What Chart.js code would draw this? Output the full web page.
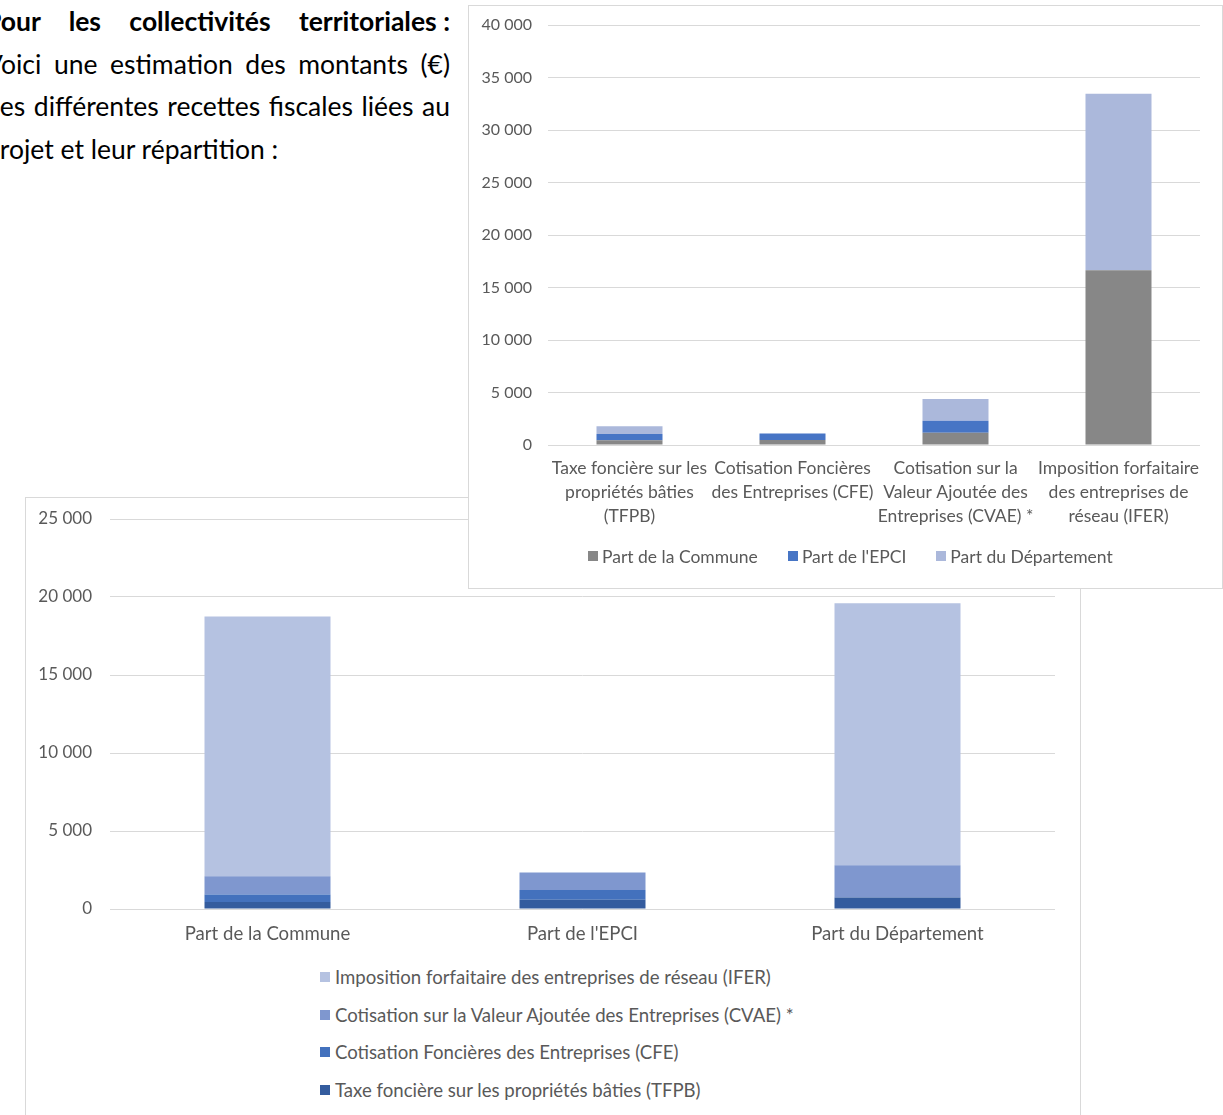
<!DOCTYPE html>
<html lang="fr">
<head>
<meta charset="utf-8">
<script src="https://cdn.jsdelivr.net/npm/chart.js@4.4.1/dist/chart.umd.min.js"></script>
<style>
  html, body { margin: 0; padding: 0; background: #fff; overflow: hidden; }
  body { width: 1223px; height: 1115px; position: relative; }
  .intro { position: absolute; left: -15px; top: 0; width: 465px; font-family: Lato, "Open Sans", sans-serif; font-size: 26.5px; color: #000; }
  .intro div { height: 42.7px; line-height: 42.7px; text-align: justify; text-align-last: justify; white-space: nowrap; }
  .intro div.last { text-align-last: left; }
  .intro b { font-weight: 700; }
  .intro .keep { display: inline-block; white-space: pre; }
  .box { position: absolute; background: #fff; border: 1px solid #d9d9d9; }
  #boxTop { left: 468px; top: 5px; width: 753px; height: 582px; z-index: 2; }
  #boxBottom { left: 25px; top: 497px; width: 1054px; height: 640px; z-index: 1; }
  canvas { display: block; }
  .legend { position: absolute; font-family: Lato, sans-serif; color: #595959; }
  .legend .item { display: flex; align-items: center; white-space: nowrap; }
  .legend .sw { width: 10px; height: 10px; margin-right: 4px; flex: none; }
  #legendTaxes { left: 119px; top: 533px; height: 34px; display: flex; gap: 30px; font-size: 17.5px; }
  #legendParts { left: 294px; top: 460px; font-size: 18.6px; }
  #legendParts .item { height: 37.7px; }
  #legendParts .sw { margin-right: 5px; }
</style>
</head>
<body>
<div class="intro">
  <div><b>Pour les collectivités territoriales<span class="keep"> :</span></b></div>
  <div>Voici une estimation des montants (€)</div>
  <div>des différentes recettes fiscales liées au</div>
  <div class="last">projet et leur répartition :</div>
</div>

<div class="box" id="boxTop">
  <canvas id="chartTaxes" width="753" height="582"></canvas>
  <div class="legend" id="legendTaxes"></div>
</div>
<div class="box" id="boxBottom">
  <canvas id="chartParts" width="1054" height="460"></canvas>
  <div class="legend" id="legendParts"></div>
</div>

<script>
// Recettes fiscales (€) et leur répartition entre collectivités
const taxLabels = [
  ["Taxe foncière sur les", "propriétés bâties", "(TFPB)"],
  ["Cotisation Foncières", "des Entreprises (CFE)"],
  ["Cotisation sur la", "Valeur Ajoutée des", "Entreprises (CVAE) *"],
  ["Imposition forfaitaire", "des entreprises de", "réseau (IFER)"]
];
const taxNames = [
  "Taxe foncière sur les propriétés bâties (TFPB)",
  "Cotisation Foncières des Entreprises (CFE)",
  "Cotisation sur la Valeur Ajoutée des Entreprises (CVAE) *",
  "Imposition forfaitaire des entreprises de réseau (IFER)"
];
const partNames = ["Part de la Commune", "Part de l'EPCI", "Part du Département"];

// Montants par taxe : TFPB, CFE, CVAE, IFER
const partCommune     = [450, 480, 1170, 16650];
const partEPCI        = [600, 610, 1130, 0];
const partDepartement = [730, 0, 2070, 16800];

const yTicksTaxes = [0, 5000, 10000, 15000, 20000, 25000, 30000, 35000, 40000];
const yTicksParts = [0, 5000, 10000, 15000, 20000, 25000];

const partColors = ["#878787", "#4775c5", "#abb8db"];
const taxColors  = ["#345c9e", "#4371bd", "#7f97cf", "#b5c2e1"];

const fmt = v => String(v).replace(/\B(?=(\d{3})+(?!\d))/g, " ");
const FAMILY = "Lato, 'Open Sans', sans-serif";
const GRID = "#d9d9d9";
const TEXT = "#595959";

function fixedTicks(list) {
  return scale => { scale.ticks = list.map(v => ({ value: v })); };
}
// Fixed axis width, no extra room reserved for the end labels
function fixedWidth(w) {
  return scale => { scale.width = w; scale.paddingTop = 0; scale.paddingBottom = 0; };
}

// Graphique 1 : par taxe, empilé par collectivité
const partsByTax = [partCommune, partEPCI, partDepartement];
new Chart(document.getElementById("chartTaxes"), {
  type: "bar",
  data: {
    labels: taxLabels,
    datasets: partNames.map((name, i) => ({
      label: name,
      data: partsByTax[i],
      backgroundColor: partColors[i],
      borderWidth: 0,
      barPercentage: 0.405,
      categoryPercentage: 1
    }))
  },
  options: {
    responsive: false,
    animation: false,
    layout: { padding: { top: 19, right: 22, left: 0, bottom: 43 } },
    scales: {
      x: {
        stacked: true,
        grid: { display: false, drawTicks: false },
        border: { display: false },
        ticks: { color: TEXT, font: { family: FAMILY, size: 17.5, lineHeight: 1.371 }, padding: 11, maxRotation: 0, autoSkip: false },
        afterFit: s => { s.height = 100; s.paddingLeft = 0; s.paddingRight = 0; }
      },
      y: {
        stacked: true,
        min: 0, max: 40000,
        afterBuildTicks: fixedTicks(yTicksTaxes),
        grid: { color: GRID, lineWidth: 1, drawTicks: false },
        border: { display: false },
        ticks: { color: TEXT, font: { family: FAMILY, size: 16 }, padding: 16, callback: v => fmt(v) },
        afterFit: fixedWidth(79)
      }
    },
    plugins: { legend: { display: false }, tooltip: { enabled: false } }
  }
});

// Graphique 2 : par collectivité, empilé par taxe
new Chart(document.getElementById("chartParts"), {
  type: "bar",
  data: {
    labels: partNames,
    datasets: taxNames.map((name, t) => ({
      label: name,
      data: partsByTax.map(p => p[t]),
      backgroundColor: taxColors[t],
      borderWidth: 0,
      barPercentage: 0.4,
      categoryPercentage: 1
    }))
  },
  options: {
    responsive: false,
    animation: false,
    layout: { padding: { top: 21, right: 25, left: 0, bottom: 9 } },
    scales: {
      x: {
        stacked: true,
        grid: { display: false, drawTicks: false },
        border: { display: false },
        ticks: { color: TEXT, font: { family: FAMILY, size: 18.6 }, padding: 14, maxRotation: 0 },
        afterFit: s => { s.height = 40; s.paddingLeft = 0; s.paddingRight = 0; }
      },
      y: {
        stacked: true,
        min: 0, max: 25000,
        afterBuildTicks: fixedTicks(yTicksParts),
        grid: { color: GRID, lineWidth: 1, drawTicks: false },
        border: { display: false },
        ticks: { color: TEXT, font: { family: FAMILY, size: 17 }, padding: 18, callback: v => fmt(v) },
        afterFit: fixedWidth(84)
      }
    },
    plugins: { legend: { display: false }, tooltip: { enabled: false } }
  }
});

// Légendes
function legendItem(color, text) {
  const item = document.createElement("div");
  item.className = "item";
  const sw = document.createElement("span");
  sw.className = "sw";
  sw.style.background = color;
  const txt = document.createElement("span");
  txt.textContent = text;
  item.appendChild(sw);
  item.appendChild(txt);
  return item;
}
const legendTaxes = document.getElementById("legendTaxes");
partNames.forEach((name, i) => legendTaxes.appendChild(legendItem(partColors[i], name)));

// Verticale, de la série du haut vers celle du bas
const legendParts = document.getElementById("legendParts");
for (let t = taxNames.length - 1; t >= 0; t--) {
  legendParts.appendChild(legendItem(taxColors[t], taxNames[t]));
}
</script>
</body>
</html>
